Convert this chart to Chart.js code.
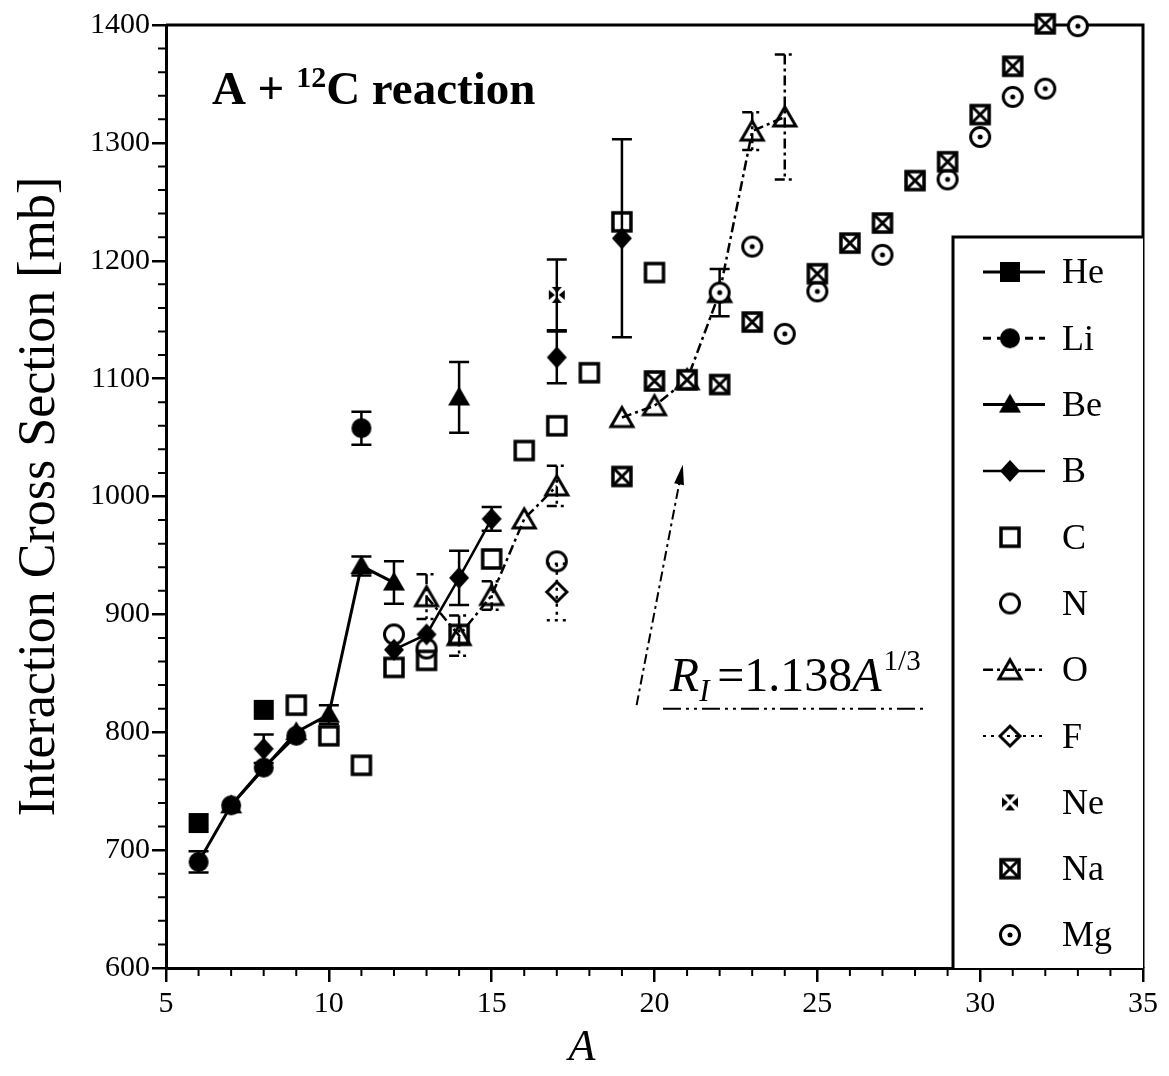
<!DOCTYPE html>
<html>
<head>
<meta charset="utf-8">
<title>A + 12C interaction cross sections</title>
<script src="https://cdn.jsdelivr.net/npm/chart.js@4.4.1/dist/chart.umd.min.js"></script>
<style>
  html, body { margin: 0; padding: 0; background: #fff; }
  #wrap { width: 1169px; height: 1076px; position: relative; }
</style>
</head>
<body>
<div id="wrap"><canvas id="chart"></canvas></div>
<script>
// Interaction cross sections (mb) for A + 12C
// null = gap in the connecting line

const heA = [6, 7, 8];
const heSigma = [723, null, 819];

const liA = [6, 7, 8, 9, 10, 11];
const liSigma = [690, 738, 770, 797, null, 1058];
const liErr = [9, null, null, null, null, 14];

const beA = [7, 9, 10, 11, 12, 13, 14];
const beSigma = [738, 800, 815, 941, 927, null, 1084];
const beErr = [null, null, 8, 8, 18, null, 30];

const bA = [8, 10, 12, 13, 14, 15, 16, 17, 18, 19];
const bSigma = [786, null, 870, 883, 931, 981, null, 1118, null, 1219];
const bErr = [12, null, null, null, 23, 10, null, 22, null, 84];

const cA = [9, 10, 11, 12, 13, 14, 15, 16, 17, 18, 19, 20];
const cSigma = [823, 797, 772, 855, 861, 883, 947, 1039, 1060, 1105, 1233, 1190];

const nA = [12, 13, 17];
const nSigma = [883, 871, 945];

const oA = [13, 14, 15, 16, 17, 18, 19, 20, 21, 22, 23, 24];
const oSigma = [915, 882, 916, 981, 1009, null, 1067, 1077, 1099, 1173, 1310, 1322];
const oErr = [19, 17, 12, null, 17, null, null, null, null, null, 16, 53];

const fA = [17];
const fSigma = [919];
const fErr = [24];

const neA = [17];
const neSigma = [1171];
const neErr = [30];

const naA = [19, 20, 21, 22, 23, 25, 26, 27, 28, 29, 30, 31, 32];
const naSigma = [1017, 1098, 1099, 1095, 1148, 1189, 1215, 1232, 1268, 1284, 1324, 1365, 1401];

const mgA = [22, 23, 24, 25, 27, 29, 30, 31, 32, 33];
const mgSigma = [1173, 1212, 1138, 1174, 1205, 1269, 1305, 1339, 1346, 1399];
const mgErr = [20, null, null, null, null, null, null, null, null, null];

const xRange = [5, 35];
const yRange = [600, 1400];

const FONT = "'Liberation Serif', 'Times New Roman', serif";
Chart.defaults.font.family = FONT;
Chart.defaults.color = '#000';

// marker glyphs drawn once on small canvases
function makeSymbol(kind) {
    const s = 32, c = s / 2;
    const cv = document.createElement('canvas');
    cv.width = s; cv.height = s;
    const g = cv.getContext('2d');
    g.fillStyle = '#000';
    g.strokeStyle = '#000';
    g.lineWidth = 3;
    const poly = (p) => { g.beginPath(); g.moveTo(p[0][0], p[0][1]); p.slice(1).forEach(q => g.lineTo(q[0], q[1])); g.closePath(); };
    switch (kind) {
        case 'fsquare': g.fillRect(c - 10, c - 10, 20, 20); break;
        case 'fcircle': g.beginPath(); g.arc(c, c, 10, 0, 2 * Math.PI); g.fill(); break;
        case 'ftriangle': poly([[c, c - 11], [c + 11, c + 8], [c - 11, c + 8]]); g.fill(); break;
        case 'fdiamond': poly([[c, c - 11], [c + 10, c], [c, c + 11], [c - 10, c]]); g.fill(); break;
        case 'osquare': g.lineWidth = 3.5; g.strokeRect(c - 9, c - 9, 18, 18); break;
        case 'ocircle': g.beginPath(); g.arc(c, c, 9.5, 0, 2 * Math.PI); g.stroke(); break;
        case 'otriangle': poly([[c, c - 10], [c + 11, c + 9], [c - 11, c + 9]]); g.stroke(); break;
        case 'odiamond': poly([[c, c - 10], [c + 10, c], [c, c + 10], [c - 10, c]]); g.stroke(); break;
        case 'ne':
            poly([[c - 5, c - 8], [c + 5, c - 8], [c, c - 2]]); g.fill();
            poly([[c - 5, c + 8], [c + 5, c + 8], [c, c + 2]]); g.fill();
            poly([[c - 8, c - 5], [c - 8, c + 5], [c - 2, c]]); g.fill();
            poly([[c + 8, c - 5], [c + 8, c + 5], [c + 2, c]]); g.fill();
            break;
        case 'na':
            g.fillStyle = '#fff'; g.fillRect(c - 10, c - 10, 20, 20);
            g.lineWidth = 3.5; g.strokeRect(c - 9, c - 9, 18, 18);
            g.lineWidth = 3;
            g.beginPath(); g.moveTo(c - 8, c - 8); g.lineTo(c + 8, c + 8); g.moveTo(c + 8, c - 8); g.lineTo(c - 8, c + 8); g.stroke();
            break;
        case 'mg':
            g.fillStyle = '#fff'; g.beginPath(); g.arc(c, c, 10, 0, 2 * Math.PI); g.fill();
            g.beginPath(); g.arc(c, c, 9.5, 0, 2 * Math.PI); g.stroke();
            g.fillStyle = '#000'; g.beginPath(); g.arc(c, c, 2.5, 0, 2 * Math.PI); g.fill();
            break;
    }
    return cv;
}

const pts = (xs, ys) => xs.map((x, i) => ({ x, y: ys[i] }));

const base = {
    borderColor: '#000',
    backgroundColor: '#000',
    pointRadius: 10,
    pointHoverRadius: 10,
    showLine: false,
    spanGaps: false,
    tension: 0,
    clip: false,
    order: 0,
};

const datasets = [
    { ...base, label: 'He', data: pts(heA, heSigma), pointStyle: makeSymbol('fsquare'), showLine: true, borderWidth: 3 },
    { ...base, label: 'Li', data: pts(liA, liSigma), errors: liErr, pointStyle: makeSymbol('fcircle'), showLine: true, borderWidth: 3, legendDash: [8, 6] },
    { ...base, label: 'Be', data: pts(beA, beSigma), errors: beErr, pointStyle: makeSymbol('ftriangle'), showLine: true, borderWidth: 3 },
    { ...base, label: 'B', data: pts(bA, bSigma), errors: bErr, pointStyle: makeSymbol('fdiamond'), showLine: true, borderWidth: 2.5 },
    { ...base, label: 'C', data: pts(cA, cSigma), pointStyle: makeSymbol('osquare') },
    { ...base, label: 'N', data: pts(nA, nSigma), pointStyle: makeSymbol('ocircle') },
    { ...base, label: 'O', data: pts(oA, oSigma), errors: oErr, pointStyle: makeSymbol('otriangle'), showLine: true, borderWidth: 2.5, borderDash: [10, 4, 3, 4], order: 1 },
    { ...base, label: 'F', data: pts(fA, fSigma), errors: fErr, pointStyle: makeSymbol('odiamond'), showLine: true, borderWidth: 2, borderDash: [3, 5] },
    { ...base, label: 'Ne', data: pts(neA, neSigma), errors: neErr, pointStyle: makeSymbol('ne') },
    { ...base, label: 'Na', data: pts(naA, naSigma), pointStyle: makeSymbol('na') },
    { ...base, label: 'Mg', data: pts(mgA, mgSigma), errors: mgErr, pointStyle: makeSymbol('mg') },
];

// frame on top/right plus minor ticks
const frameAndTicks = {
    id: 'frameAndTicks',
    beforeDatasetsDraw(chart) {
        const { ctx, chartArea: a, scales: { x, y } } = chart;
        ctx.save();
        ctx.strokeStyle = '#000';
        ctx.lineWidth = 3;
        ctx.beginPath();
        ctx.moveTo(a.left, a.top);
        ctx.lineTo(a.right, a.top);
        ctx.lineTo(a.right, a.bottom);
        ctx.stroke();
        ctx.lineWidth = 2;
        ctx.beginPath();
        for (let v = x.min; v <= x.max; v += 1) {
            if (v % 5 === 0) continue;
            const px = x.getPixelForValue(v);
            ctx.moveTo(px, a.bottom);
            ctx.lineTo(px, a.bottom + 8);
        }
        for (let v = y.min; v <= y.max; v += 20) {
            if (v % 100 === 0) continue;
            const py = y.getPixelForValue(v);
            ctx.moveTo(a.left - 8, py);
            ctx.lineTo(a.left, py);
        }
        ctx.stroke();
        ctx.restore();
    },
};

const errorBars = {
    id: 'errorBars',
    beforeDatasetsDraw(chart) {
        const { ctx, scales: { x, y } } = chart;
        ctx.save();
        ctx.strokeStyle = '#000';
        ctx.lineWidth = 2.5;
        chart.data.datasets.forEach(ds => {
            if (!ds.errors) return;
            ctx.setLineDash(ds.borderDash || []);
            ds.data.forEach((p, i) => {
                const e = ds.errors[i];
                if (e == null || p.y == null) return;
                const px = x.getPixelForValue(p.x);
                const yt = y.getPixelForValue(p.y + e);
                const yb = y.getPixelForValue(p.y - e);
                ctx.beginPath();
                ctx.moveTo(px, yt); ctx.lineTo(px, yb);
                ctx.moveTo(px - 10, yt); ctx.lineTo(px + 10, yt);
                ctx.moveTo(px - 10, yb); ctx.lineTo(px + 10, yb);
                ctx.stroke();
            });
        });
        ctx.restore();
    },
};

// boxed legend in the lower right corner of the plot
const boxLegend = {
    id: 'boxLegend',
    afterDatasetsDraw(chart) {
        const { ctx, chartArea: a } = chart;
        const left = a.right - 190, top = a.top + 212;
        ctx.save();
        ctx.fillStyle = '#fff';
        ctx.fillRect(left, top, a.right - left, a.bottom - top);
        ctx.strokeStyle = '#000';
        ctx.lineWidth = 3;
        ctx.beginPath();
        ctx.moveTo(left, a.bottom);
        ctx.lineTo(left, top);
        ctx.lineTo(a.right, top);
        ctx.stroke();
        ctx.font = '36px ' + FONT;
        ctx.textBaseline = 'middle';
        ctx.fillStyle = '#000';
        chart.data.datasets.forEach((ds, i) => {
            const cy = top + 35 + i * 66.3;
            const sx = left + 57;
            if (ds.showLine) {
                ctx.lineWidth = ds.borderWidth;
                ctx.setLineDash(ds.legendDash || ds.borderDash || []);
                ctx.beginPath();
                ctx.moveTo(left + 30, cy);
                ctx.lineTo(left + 92, cy);
                ctx.stroke();
                ctx.setLineDash([]);
            }
            const im = ds.pointStyle;
            ctx.drawImage(im, sx - im.width / 2, cy - im.height / 2);
            ctx.fillText(ds.label, left + 109, cy + 2);
        });
        ctx.restore();
    },
};

// text annotations and the arrow pointing at the R_I curve position
const annotations = {
    id: 'annotations',
    afterDatasetsDraw(chart) {
        const { ctx, chartArea: a, scales: { x, y } } = chart;
        ctx.save();
        ctx.fillStyle = '#000';
        ctx.strokeStyle = '#000';
        ctx.textBaseline = 'alphabetic';

        // A + 12C reaction
        let tx = x.getPixelForValue(6.41);
        const ty = y.getPixelForValue(1333);
        ctx.font = 'bold 47px ' + FONT;
        ctx.fillText('A + ', tx, ty);
        tx += ctx.measureText('A + ').width;
        ctx.font = 'bold 30px ' + FONT;
        ctx.fillText('12', tx, ty - 17);
        tx += ctx.measureText('12').width;
        ctx.font = 'bold 47px ' + FONT;
        ctx.fillText('C reaction', tx, ty);

        // R_I = 1.138 A^(1/3)
        let rx = x.getPixelForValue(20.47);
        const ry = y.getPixelForValue(835);
        ctx.font = 'italic 48px ' + FONT;
        ctx.fillText('R', rx, ry);
        rx += ctx.measureText('R').width;
        ctx.font = 'italic 31px ' + FONT;
        ctx.fillText('I', rx, ry + 10);
        rx += ctx.measureText('I ').width;
        ctx.font = '48px ' + FONT;
        ctx.fillText('=1.138', rx, ry);
        rx += ctx.measureText('=1.138').width;
        ctx.font = 'italic 48px ' + FONT;
        ctx.fillText('A', rx, ry);
        rx += ctx.measureText('A').width + 2;
        ctx.font = '29px ' + FONT;
        ctx.fillText('1/3', rx, ry - 21);

        // dash-dot sample line under the formula
        ctx.lineWidth = 2;
        ctx.setLineDash([18, 5, 3, 5, 3, 5]);
        ctx.beginPath();
        const uy = y.getPixelForValue(820);
        ctx.moveTo(x.getPixelForValue(20.26), uy);
        ctx.lineTo(x.getPixelForValue(28.37), uy);
        ctx.stroke();

        // arrow
        const x0 = x.getPixelForValue(19.45), y0 = y.getPixelForValue(823);
        const x1 = x.getPixelForValue(20.87), y1 = y.getPixelForValue(1027);
        ctx.setLineDash([10, 4, 3, 4]);
        ctx.beginPath();
        ctx.moveTo(x0, y0);
        ctx.lineTo(x1, y1);
        ctx.stroke();
        ctx.setLineDash([]);
        const ang = Math.atan2(y1 - y0, x1 - x0);
        const L = 20, W = 5;
        ctx.beginPath();
        ctx.moveTo(x1, y1);
        ctx.lineTo(x1 - L * Math.cos(ang) + W * Math.sin(ang), y1 - L * Math.sin(ang) - W * Math.cos(ang));
        ctx.lineTo(x1 - L * Math.cos(ang) - W * Math.sin(ang), y1 - L * Math.sin(ang) + W * Math.cos(ang));
        ctx.closePath();
        ctx.fill();

        // x axis title
        ctx.font = 'italic 44px ' + FONT;
        ctx.textAlign = 'center';
        ctx.fillText('A', x.getPixelForValue(17.77), a.bottom + 92);
        ctx.restore();
    },
};

new Chart(document.getElementById('chart'), {
    type: 'line',
    data: { datasets },
    options: {
        responsive: true,
        maintainAspectRatio: false,
        animation: false,
        events: [],
        layout: { padding: { top: 25, right: 26, left: 0, bottom: 0 } },
        plugins: {
            legend: { display: false },
            tooltip: { enabled: false },
        },
        scales: {
            x: {
                type: 'linear',
                min: xRange[0],
                max: xRange[1],
                afterFit(scale) { scale.height = 108; },
                border: { display: true, color: '#000', width: 3 },
                grid: { display: true, drawOnChartArea: false, drawTicks: true, tickLength: 14, color: '#000', lineWidth: 2.5 },
                ticks: { stepSize: 5, padding: 4, color: '#000', font: { size: 30 }, maxRotation: 0, callback: v => String(v) },
            },
            y: {
                type: 'linear',
                min: yRange[0],
                max: yRange[1],
                afterFit(scale) { scale.width = 166; },
                border: { display: true, color: '#000', width: 3 },
                grid: { display: true, drawOnChartArea: false, drawTicks: true, tickLength: 14, color: '#000', lineWidth: 2.5 },
                ticks: { stepSize: 100, padding: 2, color: '#000', font: { size: 30 }, callback: v => String(v) },
                title: {
                    display: true,
                    text: 'Interaction Cross Section [mb]',
                    color: '#000',
                    font: { size: 52 },
                    padding: { top: 9, bottom: 0 },
                },
            },
        },
    },
    plugins: [frameAndTicks, errorBars, boxLegend, annotations],
});
</script>
</body>
</html>
